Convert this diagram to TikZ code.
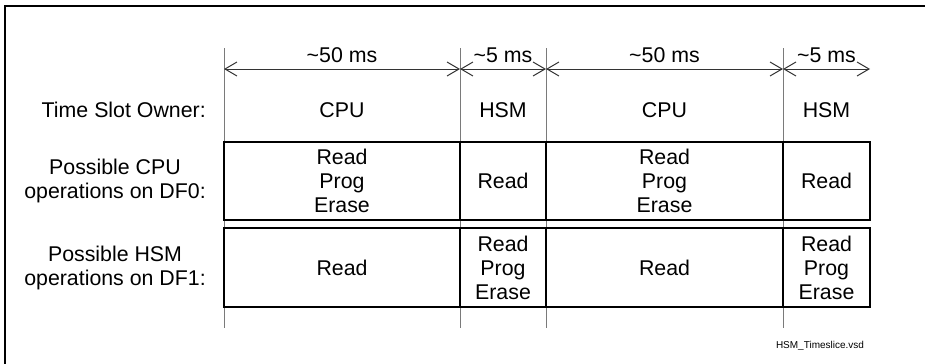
\documentclass[tikz,border=0pt]{standalone}
\usepackage{fontspec}
\setmainfont{Liberation Sans}
\usepackage{tikz}
\usetikzlibrary{arrows.meta,positioning}
\definecolor{grid}{HTML}{7A7A7A}
\definecolor{dimline}{HTML}{333333}

\begin{document}
\begin{tikzpicture}[
  x=0.75pt,y=-0.75pt,
  every node/.style={font=\fontsize{16}{18}\selectfont,inner sep=0pt},
  cell/.style={draw=black,line width=1.5pt,minimum height=58.5pt,align=center},
  label/.style={anchor=east,align=center},
  gridline/.style={draw=grid,line width=0.75pt},
  dim/.style={{Straight Barb[length=9pt,width=10.5pt]}-{Straight Barb[length=9pt,width=10.5pt]},
              draw=dimline,line width=0.75pt}]

  \useasboundingbox (0,0) rectangle (925,364);
  % frame
  \draw[line width=1.5pt] (5,364) -- (5,6) -- (925,6);

  % slot boundaries
  \foreach \n/\x in {a/224,b/460,c/546,d/783}{
    \coordinate (top\n) at (\x,48);
    \coordinate (bot\n) at (\x,328);
    \coordinate (dim\n) at (\x,69);
    \draw[gridline] (top\n) -- (bot\n);
  }
  \coordinate (dime) at (870,69);

  % durations
  \draw[dim] (dima) -- node[above=4.5pt] {\textasciitilde50 ms} (dimb);
  \draw[dim] (dimb) -- node[above=4.5pt] {\textasciitilde5 ms} (dimc);
  \draw[dim] (dimc) -- node[above=4.5pt] {\textasciitilde50 ms} (dimd);
  \draw[dim] (dimd) -- node[above=4.5pt] {\textasciitilde5 ms} (dime);

  % row labels
  \node[label] (own)  at (206,110) {Time Slot Owner:};
  \node[label] (cpul) at (206,181) {Possible CPU\\operations on DF0:};
  \node[label] (hsml) at (206,267.5) {Possible HSM\\operations on DF1:};

  % time slot owners
  \node (own1) at (342,110) {CPU};
  \node (own2) at (503,110) {HSM};
  \node (own3) at (664.5,110) {CPU};
  \node (own4) at (826.5,110) {HSM};

  % CPU operations
  \node[cell,minimum width=177pt] (cpu1) at (342,181) {Read\\Prog\\Erase};
  \node[cell,minimum width=64.5pt] (cpu2) at (503,181) {Read};
  \node[cell,minimum width=177.75pt] (cpu3) at (664.5,181) {Read\\Prog\\Erase};
  \node[cell,minimum width=65.25pt] (cpu4) at (826.5,181) {Read};

  % HSM operations
  \node[cell,minimum width=177pt,minimum height=59.25pt] (hsm1) at (342,267.5) {Read};
  \node[cell,minimum width=64.5pt,minimum height=59.25pt] (hsm2) at (503,267.5) {Read\\Prog\\Erase};
  \node[cell,minimum width=177.75pt,minimum height=59.25pt] (hsm3) at (664.5,267.5) {Read};
  \node[cell,minimum width=65.25pt,minimum height=59.25pt] (hsm4) at (826.5,267.5) {Read\\Prog\\Erase};

  \node[font=\fontsize{7.5}{9}\selectfont] (file) at (820,346) {HSM\_Timeslice.vsd};
\end{tikzpicture}
\end{document}
